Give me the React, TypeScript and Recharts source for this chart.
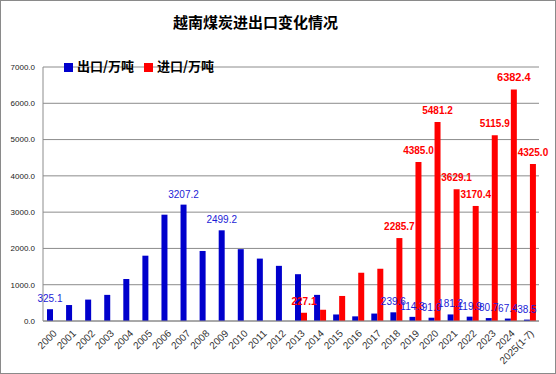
import { BarChart, Bar, XAxis, YAxis, CartesianGrid, Legend, LabelList } from "recharts";

const years = [
  "2000", "2001", "2002", "2003", "2004", "2005", "2006", "2007", "2008", "2009",
  "2010", "2011", "2012", "2013", "2014", "2015", "2016", "2017", "2018", "2019",
  "2020", "2021", "2022", "2023", "2024", "2025(1-7)",
];

// 出口/万吨
const exports = [
  325.1, 440, 590, 720, 1160, 1800, 2930, 3207.2, 1930, 2499.2,
  1980, 1720, 1520, 1290, 720, 180, 128, 205, 239.6, 114.3,
  91.0, 181.2, 119.9, 80.7, 67.4, 38.5,
];

// 进口/万吨
const imports = [
  null, null, null, null, null, null, null, null, null, null,
  null, null, null, 227.1, 310, 690, 1330, 1440, 2285.7, 4385.0,
  5481.2, 3629.1, 3170.4, 5115.9, 6382.4, 4325.0,
];

// years that carry a value label
const exportLabelled = ["2000", "2007", "2009", "2018", "2019", "2020", "2021", "2022", "2023", "2024", "2025(1-7)"];
const importLabelled = ["2013", "2018", "2019", "2020", "2021", "2022", "2023", "2024", "2025(1-7)"];

const yTicks = [0, 1000, 2000, 3000, 4000, 5000, 6000, 7000];

const data = years.map((y, i) => ({
  year: y,
  exp: exports[i],
  imp: imports[i],
  expLabel: exportLabelled.includes(y) ? exports[i] : null,
  impLabel: importLabelled.includes(y) ? imports[i] : null,
}));

const maxImport = Math.max(...imports.map((v) => v ?? 0));

const renderExportLabel = (props: any) => {
  const { x, y, width, value } = props;
  if (value == null) return null;
  return (
    <text x={x + width / 2} y={y - 7} textAnchor="middle" fill="#1c1cd6" fontSize={10} fontFamily="Liberation Sans">
      {Number(value).toFixed(1)}
    </text>
  );
};

const renderImportLabel = (props: any) => {
  const { x, y, width, value } = props;
  if (value == null) return null;
  return (
    <text
      x={x + width / 2}
      y={y - 8}
      textAnchor="middle"
      fill="#ff0000"
      fontSize={value === maxImport ? 11 : 10}
      fontWeight="bold"
      fontFamily="Liberation Sans"
    >
      {Number(value).toFixed(1)}
    </text>
  );
};

export default function App() {
  return (
    <div
      style={{
        position: "absolute",
        left: 0,
        top: 0,
        width: 556,
        height: 374,
        background: "#fff",
        boxShadow: "inset 0 0 0 1px #8a8a8a",
      }}
    >
      <div
        style={{
          position: "absolute",
          left: 0,
          top: 11,
          width: 511,
          textAlign: "center",
          fontFamily: "Noto Sans CJK SC",
          fontWeight: "bold",
          fontSize: 15,
          color: "#000",
        }}
      >
        越南煤炭进出口变化情况
      </div>
      <BarChart
        width={556}
        height={374}
        data={data}
        margin={{ top: 48, right: 17, bottom: 3, left: 0 }}
        barGap={0}
        barSize={6}
        style={{ position: "absolute", left: 0, top: 0 }}
      >
        <CartesianGrid vertical={false} stroke="#8c8c8c" />
        <XAxis
          dataKey="year"
          interval={0}
          height={50}
          axisLine={{ stroke: "#8c8c8c" }}
          tickLine={false}
          tick={{ fontSize: 10, fill: "#333", fontFamily: "Liberation Sans" }}
          angle={-45}
          textAnchor="end"
        />
        <YAxis
          width={43}
          domain={[0, 7000]}
          ticks={yTicks}
          interval={0}
          tickFormatter={(v) => Number(v).toFixed(1)}
          axisLine={{ stroke: "#8c8c8c" }}
          tickLine={false}
          tick={{ fontSize: 8, fill: "#222", fontFamily: "Liberation Sans" }}
        />
        <Legend
          verticalAlign="top"
          align="left"
          iconType="square"
          iconSize={9}
          wrapperStyle={{ top: 56, left: 64, width: "auto" }}
          formatter={(v) => (
            <span style={{ color: "#000", fontWeight: "bold", fontSize: 13, fontFamily: "Noto Sans CJK SC" }}>{v}</span>
          )}
        />
        <Bar dataKey="exp" name="出口/万吨" fill="#0000cc" isAnimationActive={false}>
          <LabelList dataKey="expLabel" content={renderExportLabel} />
        </Bar>
        <Bar dataKey="imp" name="进口/万吨" fill="#ff0000" isAnimationActive={false}>
          <LabelList dataKey="impLabel" content={renderImportLabel} />
        </Bar>
      </BarChart>
    </div>
  );
}
